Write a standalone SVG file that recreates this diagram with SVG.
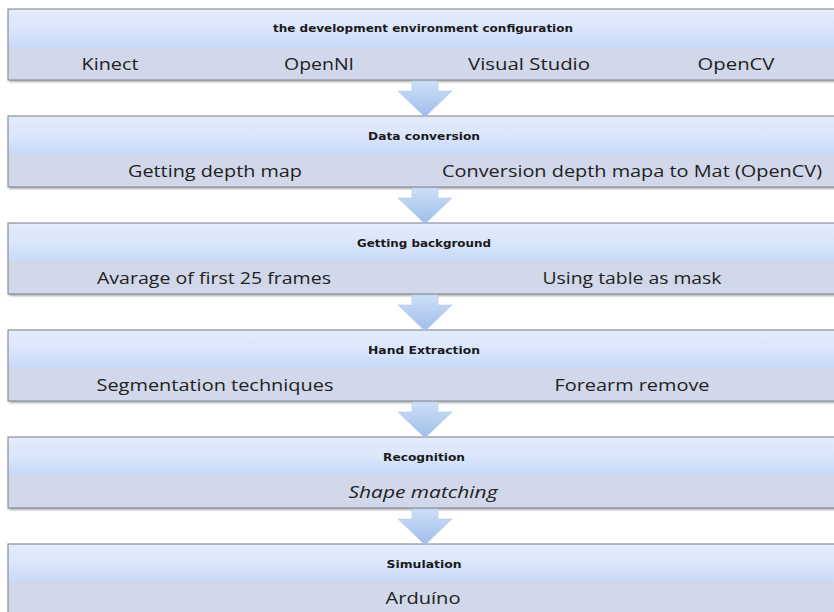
<svg xmlns="http://www.w3.org/2000/svg" width="834" height="612" viewBox="0 0 834 612">
<defs>
<linearGradient id="hdr" x1="0" y1="0" x2="0" y2="1">
<stop offset="0" stop-color="#e4ecfc"/>
<stop offset="0.5" stop-color="#dbe6fb"/>
<stop offset="1" stop-color="#c7d9f8"/>
</linearGradient>
<linearGradient id="arr" x1="0" y1="0" x2="0" y2="1">
<stop offset="0" stop-color="#cddff7"/>
<stop offset="1" stop-color="#9fbdea"/>
</linearGradient>
<filter id="sh" x="-5%" y="-20%" width="110%" height="150%">
<feGaussianBlur stdDeviation="1.2"/>
</filter>
</defs>
<style>
.shadow{fill:#8d9197;opacity:0.75;filter:url(#sh)}
.hdr{fill:url(#hdr)}
.low{fill:#d0d8e9}
.edge{fill:none;stroke:#8b9098;stroke-width:1.2}
.h{font-family:"DejaVu Sans","Open Sans",sans-serif;font-weight:bold;font-size:10.5px;fill:#1a1a1a;text-anchor:middle}
.t{font-family:"Open Sans","Liberation Sans",sans-serif;font-size:17px;fill:#222;text-anchor:middle}
.arrow{fill:url(#arr);stroke:#b4c9ea;stroke-width:0.6}
</style>
<rect width="834" height="612" fill="#ffffff"/>

<g id="box1">
<rect class="shadow" x="9" y="11" width="840" height="71"/>
<rect class="hdr" x="8" y="9" width="840" height="38"/>
<rect class="low" x="8" y="47" width="840" height="33"/>
<rect class="edge" x="8" y="9" width="840" height="71"/>
<text class="h" x="423" y="32" textLength="300" lengthAdjust="spacingAndGlyphs">the development environment configuration</text>
<text class="t" x="110" y="70" textLength="57" lengthAdjust="spacingAndGlyphs">Kinect</text>
<text class="t" x="319" y="70" textLength="70" lengthAdjust="spacingAndGlyphs">OpenNI</text>
<text class="t" x="529" y="70" textLength="122" lengthAdjust="spacingAndGlyphs">Visual Studio</text>
<text class="t" x="736" y="70" textLength="77" lengthAdjust="spacingAndGlyphs">OpenCV</text>
</g>

<g id="box2">
<rect class="shadow" x="9" y="118" width="840" height="71"/>
<rect class="hdr" x="8" y="116" width="840" height="38"/>
<rect class="low" x="8" y="154" width="840" height="33"/>
<rect class="edge" x="8" y="116" width="840" height="71"/>
<text class="h" x="424" y="140" textLength="112" lengthAdjust="spacingAndGlyphs">Data conversion</text>
<text class="t" x="215" y="177" textLength="174" lengthAdjust="spacingAndGlyphs">Getting depth map</text>
<text class="t" x="632" y="177" textLength="380" lengthAdjust="spacingAndGlyphs">Conversion depth mapa to Mat (OpenCV)</text>
</g>

<g id="box3">
<rect class="shadow" x="9" y="225" width="840" height="71"/>
<rect class="hdr" x="8" y="223" width="840" height="38"/>
<rect class="low" x="8" y="261" width="840" height="33"/>
<rect class="edge" x="8" y="223" width="840" height="71"/>
<text class="h" x="424" y="247" textLength="134" lengthAdjust="spacingAndGlyphs">Getting background</text>
<text class="t" x="214" y="284" textLength="234" lengthAdjust="spacingAndGlyphs">Avarage of first 25 frames</text>
<text class="t" x="632" y="284" textLength="179" lengthAdjust="spacingAndGlyphs">Using table as mask</text>
</g>

<g id="box4">
<rect class="shadow" x="9" y="332" width="840" height="71"/>
<rect class="hdr" x="8" y="330" width="840" height="38"/>
<rect class="low" x="8" y="368" width="840" height="33"/>
<rect class="edge" x="8" y="330" width="840" height="71"/>
<text class="h" x="424" y="354" textLength="112" lengthAdjust="spacingAndGlyphs">Hand Extraction</text>
<text class="t" x="215" y="391" textLength="237" lengthAdjust="spacingAndGlyphs">Segmentation techniques</text>
<text class="t" x="632" y="391" textLength="155" lengthAdjust="spacingAndGlyphs">Forearm remove</text>
</g>

<g id="box5">
<rect class="shadow" x="9" y="439" width="840" height="71"/>
<rect class="hdr" x="8" y="437" width="840" height="38"/>
<rect class="low" x="8" y="475" width="840" height="33"/>
<rect class="edge" x="8" y="437" width="840" height="71"/>
<text class="h" x="424" y="461" textLength="82" lengthAdjust="spacingAndGlyphs">Recognition</text>
<text class="t" x="423" y="498" font-style="italic" textLength="149" lengthAdjust="spacingAndGlyphs">Shape matching</text>
</g>

<g id="box6">
<rect class="shadow" x="9" y="546" width="840" height="71"/>
<rect class="hdr" x="8" y="544" width="840" height="38"/>
<rect class="low" x="8" y="582" width="840" height="40"/>
<rect class="edge" x="8" y="544" width="840" height="80"/>
<text class="h" x="424" y="568" textLength="75" lengthAdjust="spacingAndGlyphs">Simulation</text>
<text class="t" x="423" y="604" textLength="75" lengthAdjust="spacingAndGlyphs">Arduíno</text>
</g>

<g id="connectors">
<polygon class="arrow" points="412,81 438,81 438,91 452,91 425,117 398,91 412,91"/>
<polygon class="arrow" points="412,188 438,188 438,198 452,198 425,224 398,198 412,198"/>
<polygon class="arrow" points="412,295 438,295 438,305 452,305 425,331 398,305 412,305"/>
<polygon class="arrow" points="412,402 438,402 438,412 452,412 425,438 398,412 412,412"/>
<polygon class="arrow" points="412,509 438,509 438,519 452,519 425,545 398,519 412,519"/>
</g>
</svg>
